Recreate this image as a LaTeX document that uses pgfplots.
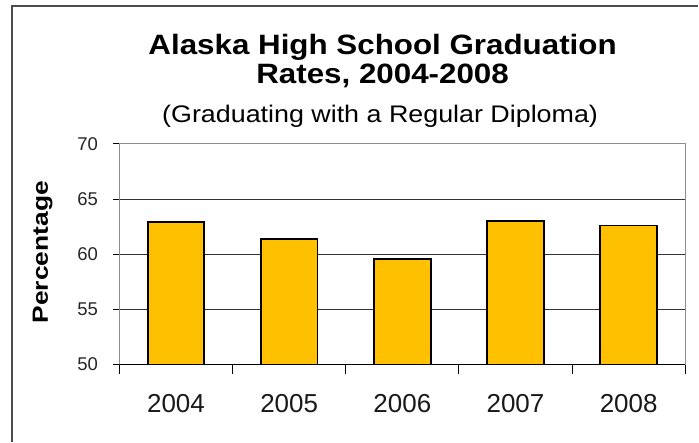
\documentclass[border=0pt]{standalone}
\usepackage{fontspec}
\setmainfont{Liberation Sans}
\usepackage{pgfplots}
\pgfplotsset{compat=1.18}
\definecolor{bargold}{HTML}{FFC000}
\begin{document}
\begin{tikzpicture}[x=1bp,y=1bp]
\path[fill=white] (0,0) rectangle (699,-442);
\draw[line width=1.5bp, color=black!70] (12,-442) -- (12,-6) -- (699,-6);
\begin{axis}[
  at={(119.5bp,-365bp)}, anchor=south west,
  scale only axis, width=566.5bp, height=221bp,
  xmin=-0.5, xmax=4.5, ymin=50, ymax=70,
  ytick={50,55,60,65,70},
  xtick={0,1,2,3,4},
  xticklabels={2004,2005,2006,2007,2008},
  minor xtick={-0.5,0.5,1.5,2.5,3.5,4.5},
  tick pos=left,
  tick align=outside,
  major tick length=6bp,
  minor tick length=9bp,
  xtick style={draw=none},
  minor x tick style={draw=black, line width=1bp},
  ytick style={draw=black, line width=1bp},
  ymajorgrids,
  grid style={draw=black!80, line width=1bp},
  axis line style={draw=black!45, line width=1.2bp},
  /pgf/number format/assume math mode=true,
  yticklabel style={font=\fontsize{18.5bp}{20bp}\selectfont, text=black!85, xshift=-12bp},
  xticklabel style={font=\fontsize{26bp}{28bp}\selectfont, text=black!90, yshift=-20bp},
]
\addplot[ybar, bar width=0.5, bar shift=0pt, fill=bargold, draw=black, line width=1.8bp]
  coordinates {(0,62.9) (1,61.4) (2,59.6) (3,63.0) (4,62.6)};
\draw[black, line width=1.2bp] (rel axis cs:0,0) -- (rel axis cs:1,0);
\end{axis}
\node[anchor=base, font=\bfseries\fontsize{28bp}{30bp}\selectfont] at (383,-55) {\scalebox{1.12}[1]{Alaska High School Graduation}};
\node[anchor=base, font=\bfseries\fontsize{28bp}{30bp}\selectfont] at (383,-84) {\scalebox{1.12}[1]{Rates, 2004-2008}};
\node[anchor=base, font=\fontsize{24bp}{26bp}\selectfont] at (380.5,-123) {\scalebox{1.12}[1]{(Graduating with a Regular Diploma)}};
\node[anchor=base, rotate=90, font=\bfseries\fontsize{22bp}{24bp}\selectfont] at (48,-252.5) {\scalebox{1.2}[1]{Percentage}};
\end{tikzpicture}
\end{document}
